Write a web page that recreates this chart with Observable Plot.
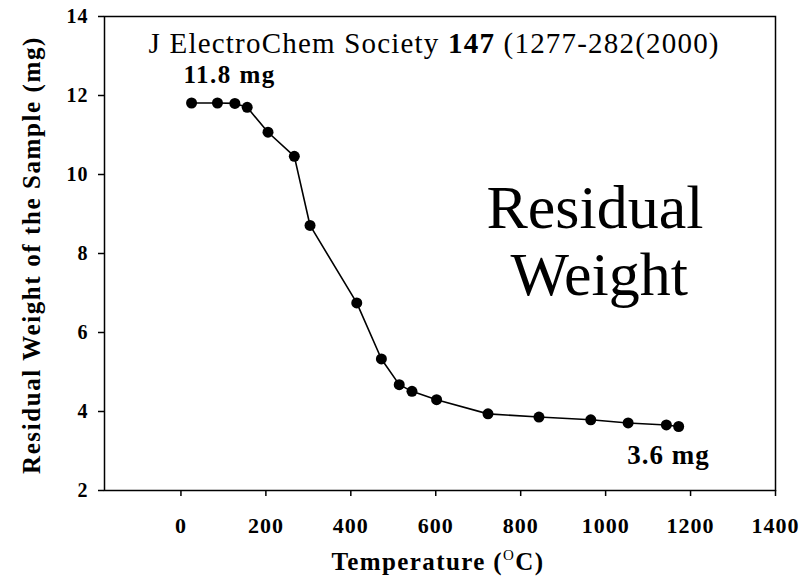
<!DOCTYPE html>
<html><head><meta charset="utf-8">
<script src="https://cdn.jsdelivr.net/npm/d3@7"></script>
<script src="https://cdn.jsdelivr.net/npm/@observablehq/plot@0.6"></script>
<style>body{margin:0;background:#fff} #chart svg{display:block} .ann text{font-family:'Liberation Serif','Times New Roman',serif}</style>
</head><body><div id="chart"></div>
<script>
const temperature = [25, 86, 127, 156, 205, 267, 304, 414, 472, 514, 544, 602, 723, 843, 965, 1053, 1143, 1172];
const weight = [11.81, 11.81, 11.80, 11.70, 11.07, 10.46, 8.71, 6.75, 5.33, 4.68, 4.51, 4.30, 3.94, 3.86, 3.79, 3.71, 3.66, 3.62];
const xTicks = [0, 200, 400, 600, 800, 1000, 1200, 1400];
const yTicks = [2, 4, 6, 8, 10, 12, 14];
const xLabel = "Temperature (";
const yLabel = "Residual Weight of the Sample (mg)";
const sourcePre = "J ElectroChem Society ";
const sourceBold = "147";
const sourcePost = " (1277-282(2000)";
const startLabel = "11.8 mg";
const endLabel = "3.6 mg";
const bigLabel = ["Residual", "Weight"];

const data = temperature.map((t, i) => ({t, w: weight[i]}));
const serif = "'Liberation Serif', 'Times New Roman', serif";

const plot = Plot.plot({
  width: 805, height: 577,
  marginLeft: 104, marginRight: 30, marginTop: 16, marginBottom: 87,
  style: {fontFamily: serif, background: "white", color: "black", overflow: "visible"},
  x: {domain: [-180, 1400]},
  y: {domain: [2, 14]},
  marks: [
    Plot.frame({stroke: "black", strokeWidth: 1.5}),
    Plot.axisX({ticks: xTicks, tickFormat: d => String(d), tickSize: 6, tickPadding: 21, fontSize: 22, fontWeight: "bold", label: null, strokeWidth: 1.5}),
    Plot.axisY({ticks: yTicks, tickSize: 6, tickPadding: 10, fontSize: 20, fontWeight: "bold", label: null, strokeWidth: 1.5}),
    Plot.line(data, {x: "t", y: "w", stroke: "black", strokeWidth: 1.6}),
    Plot.dot(data, {x: "t", y: "w", r: 5.5, fill: "black", stroke: "none"})
  ]
});
document.getElementById("chart").append(plot);

const sx = plot.scale("x"), sy = plot.scale("y");
const svg = d3.select(plot);
svg.selectAll("g[aria-label='x-axis tick label'] text, g[aria-label='y-axis tick label'] text")
  .attr("letter-spacing", "1px");
const g = svg.append("g").attr("class", "ann").attr("fill", "black").attr("text-anchor", "start");

// source line
const src = g.append("text")
  .attr("x", sx.apply(-75)).attr("y", sy.apply(13.06))
  .attr("font-size", 29).attr("letter-spacing", "1.2px");
src.append("tspan").text(sourcePre);
src.append("tspan").attr("font-weight", "bold").text(sourceBold);
src.append("tspan").text(sourcePost);

g.append("text").attr("x", sx.apply(7)).attr("y", sy.apply(12.30))
  .attr("font-size", 25).attr("font-weight", "bold").attr("letter-spacing", "1.5px").text(startLabel);
g.append("text").attr("x", sx.apply(1052)).attr("y", sy.apply(2.66))
  .attr("font-size", 27).attr("font-weight", "bold").attr("letter-spacing", "1px").text(endLabel);

g.append("text").attr("x", sx.apply(976)).attr("y", sy.apply(8.63))
  .attr("text-anchor", "middle").attr("font-size", 62).text(bigLabel[0]);
g.append("text").attr("x", sx.apply(986)).attr("y", sy.apply(6.94))
  .attr("text-anchor", "middle").attr("font-size", 62).text(bigLabel[1]);

// axis labels
g.append("text")
  .attr("transform", `translate(31,${(40 + 470) / 2}) rotate(-90)`)
  .attr("text-anchor", "middle").attr("dy", "0.35em")
  .attr("font-size", 25).attr("font-weight", "bold").attr("letter-spacing", "1.6px").text(yLabel);

const xl = g.append("text").attr("x", 438).attr("y", 570)
  .attr("text-anchor", "middle").attr("font-size", 25).attr("font-weight", "bold").attr("letter-spacing", "1.4px");
xl.append("tspan").text(xLabel);
xl.append("tspan").attr("font-size", 15).attr("dy", -10).attr("font-weight", "normal").text("O");
xl.append("tspan").attr("dy", 10).text("C)");
</script>
</body></html>
